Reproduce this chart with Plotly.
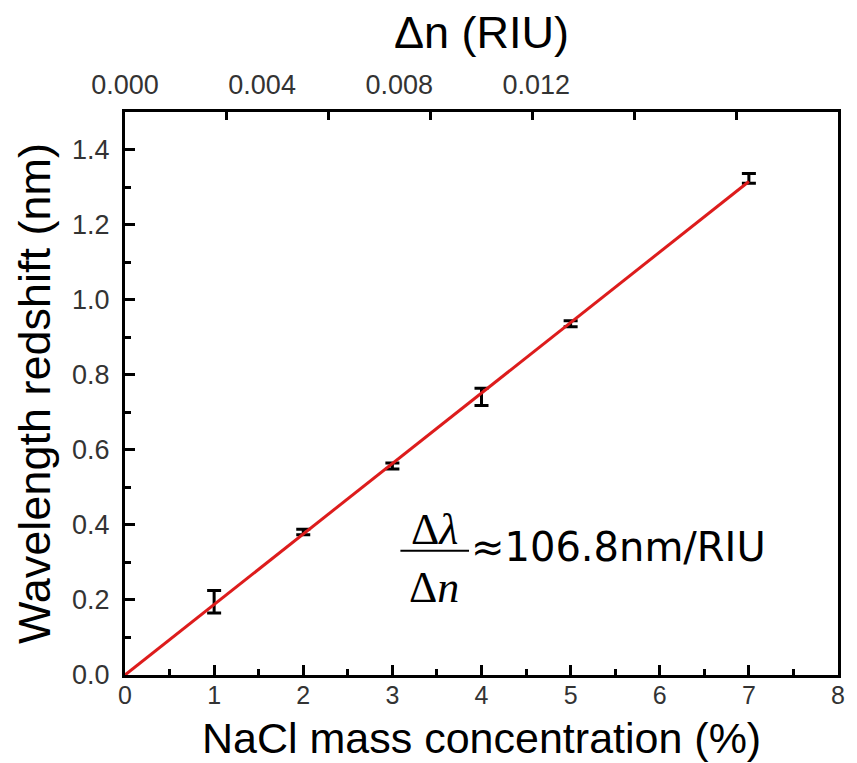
import numpy as np
import plotly.graph_objects as go

# NaCl mass concentration (%) and measured wavelength redshift (nm)
concentration = [1, 2, 3, 4, 5, 7]
redshift = [0.195, 0.381, 0.557, 0.741, 0.936, 1.323]
redshift_err = [0.030, 0.007, 0.008, 0.023, 0.008, 0.013]

# tick values
y_ticks = [0.0, 0.2, 0.4, 0.6, 0.8, 1.0, 1.2, 1.4]
dn_labels = [0.000, 0.004, 0.008, 0.012]

sensitivity_text = "≈106.8nm/RIU"

# linear fit through the origin
x_arr = np.array(concentration, dtype=float)
y_arr = np.array(redshift, dtype=float)
slope = float(np.sum(x_arr * y_arr) / np.sum(x_arr ** 2))
fit_x = np.array([0.0, x_arr.max()])
fit_y = slope * fit_x

SANS = "Liberation Sans, Arial, sans-serif"
SERIF = "Liberation Serif, Times New Roman, serif"

fig = go.Figure()

fig.add_trace(go.Scatter(
    x=concentration, y=redshift, mode="markers",
    marker=dict(size=2, color="rgba(0,0,0,0)"),
    error_y=dict(type="data", array=redshift_err, visible=True,
                 color="black", thickness=3, width=7),
    showlegend=False, hoverinfo="skip"))

fig.add_trace(go.Scatter(
    x=fit_x, y=fit_y, mode="lines",
    line=dict(color="#dd1c1c", width=3),
    showlegend=False, hoverinfo="skip"))

# helper traces so the top axes are drawn
fig.add_trace(go.Scatter(x=dn_labels, y=[0] * len(dn_labels), xaxis="x2",
                         mode="markers", marker=dict(color="rgba(0,0,0,0)"),
                         showlegend=False, hoverinfo="skip"))
fig.add_trace(go.Scatter(x=[0, 0.014], y=[0, 0], xaxis="x3",
                         mode="markers", marker=dict(color="rgba(0,0,0,0)"),
                         showlegend=False, hoverinfo="skip"))

tick_font = dict(family=SANS, size=27, color="#333333")
title_font = dict(family=SANS, size=45, color="black")

fig.update_layout(
    width=857, height=763,
    margin=dict(l=125, r=12, t=112, b=88),
    paper_bgcolor="white", plot_bgcolor="white",
    xaxis=dict(
        range=[0, 8], tickmode="linear", tick0=0, dtick=1,
        ticks="inside", ticklen=10, tickwidth=3, tickcolor="black",
        minor=dict(ticks="inside", ticklen=6, tickwidth=3, dtick=0.5,
                   tickcolor="black", showgrid=False),
        showline=True, linewidth=3, linecolor="black", mirror=True,
        showgrid=False, zeroline=False,
        tickfont=dict(family=SANS, size=25, color="#333333"),
        ticklabelstandoff=-4,
    ),
    yaxis=dict(
        range=[0, 1.5], tickvals=y_ticks,
        ticktext=[f"{v:.1f}" for v in y_ticks],
        ticks="inside", ticklen=10, tickwidth=3, tickcolor="black",
        minor=dict(ticks="inside", ticklen=6, tickwidth=3, dtick=0.1,
                   tick0=0, tickcolor="black", showgrid=False),
        showline=True, linewidth=3, linecolor="black", mirror=True,
        showgrid=False, zeroline=False,
        tickfont=tick_font, ticklabelstandoff=7,
        title=dict(text="Wavelength redshift (nm)", font=title_font,
                   standoff=8),
    ),
    xaxis2=dict(
        overlaying="x", side="top", range=[0, 0.0208],
        tickvals=dn_labels, ticktext=[f"{v:.3f}" for v in dn_labels],
        ticks="", showline=False, showgrid=False, zeroline=False,
        tickfont=tick_font, ticklabelstandoff=12,
        title=dict(text="Δn (RIU)", font=title_font, standoff=6),
    ),
    xaxis3=dict(
        overlaying="x", side="top", range=[0, 0.014],
        tickmode="linear", tick0=0, dtick=0.002,
        ticks="inside", ticklen=8, tickwidth=3, tickcolor="black",
        showticklabels=False, showline=False, showgrid=False,
        zeroline=False,
    ),
)

# bottom axis title, sitting tight under the tick labels
fig.add_annotation(x=0.5, y=-0.112, xref="paper", yref="paper",
                   text="NaCl mass concentration (%)", showarrow=False,
                   xanchor="center", yanchor="middle",
                   font=dict(family=SANS, size=43, color="black"))

# sensitivity formula: Δλ / Δn ≈ 106.8 nm/RIU
fig.add_annotation(x=3.47, y=0.387, xref="x", yref="y", text="Δ<i>λ</i>",
                   showarrow=False, font=dict(family=SERIF, size=44, color="black"))
fig.add_annotation(x=3.47, y=0.232, xref="x", yref="y", text="Δ<i>n</i>",
                   showarrow=False, font=dict(family=SERIF, size=44, color="black"))
fig.add_shape(type="line", x0=3.09, x1=3.86, y0=0.331, y1=0.331,
              xref="x", yref="y", line=dict(color="black", width=2))
fig.add_annotation(x=3.86, y=0.34, xref="x", yref="y", text=sensitivity_text,
                   xanchor="left", showarrow=False,
                   font=dict(family="DejaVu Sans, sans-serif", size=40, color="black"))

fig.write_html("out.html")
